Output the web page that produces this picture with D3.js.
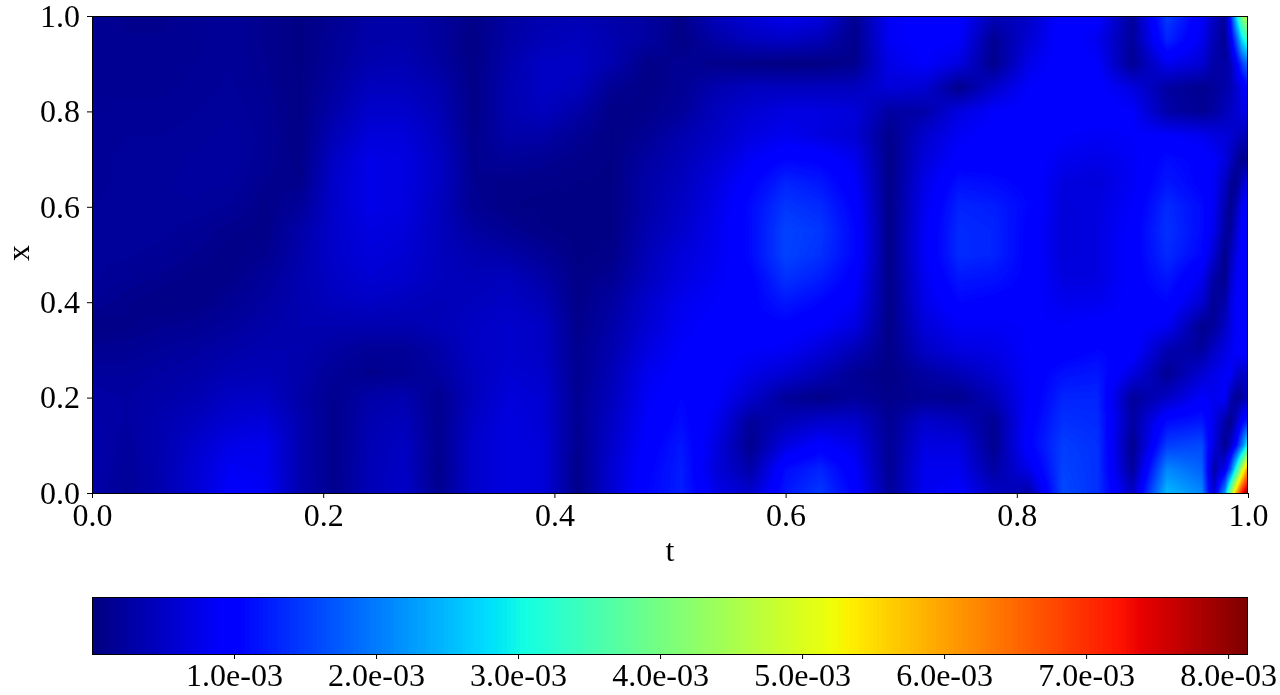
<!DOCTYPE html>
<html>
<head>
<meta charset="utf-8">
<script src="https://cdn.jsdelivr.net/npm/d3@7"></script>
<style>
html,body{margin:0;padding:0;background:#fff;width:1280px;height:695px;overflow:hidden}
#wrap{position:relative;width:1280px;height:695px}
canvas{position:absolute;left:0;top:0}
svg{position:absolute;left:0;top:0}
text{font-family:"Liberation Serif","Times New Roman",serif;fill:#000}
</style>
</head>
<body>
<div id="wrap"><canvas id="heat" width="1280" height="695"></canvas><svg id="chart" width="1280" height="695"></svg></div>
<script>
// Error magnitude, in units of 1e-4
const tNodes = [0,.03,.06,.09,.12,.15,.18,.21,.24,.27,.30,.33,.36,.39,.42,.45,.48,.51,.54,.57,.60,.63,.66,.69,.72,.75,.78,.81,.84,.87,.90,.93,.96,.97,.98,.985,.99,.995,1];
const xNodes = [1,.95,.9,.85,.8,.75,.7,.65,.6,.55,.5,.45,.4,.35,.3,.25,.2,.15,.1,.05,0];
const errorRows = [
[1.5,1.2,1.2,1.5,1.8,1.2,.5,1.5,2.8,3, 2.2,.8,2.5,3.5,3.8,3,2.5,.8,4.5,6.5, 8,7,1.5,8.5,9.5,9.5,4,5,10,9.5, 2,15,9,5,2,12,28,42,47],
[1.5,1.3,1.3,1.5,1.8,1.2,.5,1.8,3,3.2, 2.2,.6,2.8,4,4.5,3.5,2.5,.6,2.8,4.5, 5,4,1,8.5,9.5,9,1.5,6,10,8, 2,13,8,4,1.5,8,17,28,34],
[1.5,1.4,1.4,1.6,1.9,1.3,.5,2,3.5,3.8, 2.5,.6,3.2,5,5,3.5,.8,1.5,1,.6, .4,.5,1.2,7.5,9,7,1,7.5,10,9, 1.5,8,6,3,2.5,4,9,15,19],
[1.5,1.5,1.5,1.7,2,1.4,.6,2.5,4.5,4.5, 3.5,.7,3.5,5,4.5,1.5,.8,1.5,3.5,4.5, 4.5,4.5,4.5,6.5,6,1,5.5,9,10,9.5, 7,2.5,1.2,2,3,4,6,8,10],
[1.6,1.7,1.7,1.9,2.2,1.6,.6,3.2,5.5,5.5, 4,.7,3.5,4.5,3,.7,1,2,4.5,6, 7,7,6.5,2.5,3,7,9,9.5,10,10, 9,3,1.5,2.5,4,5,6,7,8],
[1.7,1.9,1.9,2.1,2.4,1.7,.6,4,6.5,6.5, 4.5,1,3,3,1.5,.6,1.5,3.5,5,7, 8,7,6,1,5.5,8.5,9.5,10,9,8.5, 9,9,8,7,6.5,6,5,4.5,4],
[1.8,2,2.1,2.3,2.5,1.6,.7,5,7.5,7, 5,1.2,2,1.5,1,.6,2.5,4,6,8.5, 10.5,10,8,.7,6.5,9.5,9.5,10,8,7.5, 8.5,11,10,9,7,5,2.5,1,1.5],
[1.8,2,2.2,2.3,2.3,1.2,1,5.5,7.5,7, 5,1.3,.8,.8,.6,.5,3,4.5,7,10, 13,12,9,.7,7.5,11.5,11,10,7,6.5, 8.5,12,10,8.5,5,2,1.2,5,8],
[1.9,2.1,2.2,2.2,1.8,.8,2,5.5,7.5,7, 4.5,1.5,.7,.4,.3,.5,3,5,7.5,11, 14.5,13.5,10,.7,8,13,12.5,10.5,6.5,7, 9,13.5,11,8.5,3.5,1.2,4,8.5,10],
[1.9,2.1,2.1,1.6,1,.8,3,5.5,7,6.5, 4.5,2.5,1.5,.7,.4,.5,3.5,5.5,8,11, 15.5,14.5,10.5,.7,8.5,13.5,13,10,6.5,7, 9.5,14,11,8,2.5,2,6,9.5,10],
[2,2,1.7,1.2,.8,1.2,3.2,5.5,6.5,6, 4.5,3.5,3,1.8,.5,.8,4,6.5,8,11, 15.5,14,10.5,.7,8.5,13.5,13,10,6.5,7, 9.5,13.5,10.5,6,1,4,7.5,9.5,9.5],
[2,1.6,1.2,.7,.9,2,3.5,5,6,5.5, 4.5,4,4.5,3,.7,1.5,4.5,7,8.5,10, 14,12.5,9.5,.7,8,12,11.5,10,7,7, 9.5,12,8,3,1,5.5,8.5,9,9],
[1.6,1,.6,.7,1.5,2.5,3.5,4.5,5,4.5, 4,4.5,5,4,.8,2.5,5.5,8,9,10, 12,10.5,8.5,.7,7.5,10.5,10,9.5,8,8, 9.5,10.5,6,1.5,3,7,9,9.5,9.5],
[.6,.9,1.2,1.5,2.2,3,3.5,3.5,3.5,3.5, 4,5,5.5,5,1,3,6,8.5,9.5,10, 10,9,7,.7,6.5,8.5,8.5,9,9,9.5, 9.5,8.5,1.2,2,5,7,9,10,10],
[1.5,1.5,2,2.4,3,3.5,3.5,2.5,1.8,1.8, 3,5,5.5,5,1.2,3.5,7,9,9.5,9, 8.5,6.5,4,.7,5,7,7.5,9,9.5,10.5, 10,3.5,2.2,5,7,8,9.5,10,10],
[2.2,2.2,2.6,3,3.8,4,3.2,1.8,1.1,1.5, 2.5,4.5,6,5.5,1.3,4,8,9.5,9.5,7.5, 6,4,1.5,.6,2.5,4,6,9,11.5,12, 7,1.5,6,7.5,8.5,9,6,5,6],
[2.8,2.5,3,3.6,5,5,3,1.2,3,3.5, 1.3,4.5,6.5,6,1.5,4.5,8.5,10.5,9,5.5, 2,.8,2,1,1.5,1.2,4,9,13,13, 2,5,9,8,9,4,1.5,2.5,5],
[3,2.5,3.5,4.5,6,6.5,3.5,1,3.5,4.2, 1.2,5,7,6,1.5,5,9,11,8,2, 4,5.5,5.5,1.5,5.5,4.5,1.5,9.5,14,13.5, 2.5,11,12,8,3,1.2,5,10,13],
[3.2,2.2,3.5,5.5,7.5,8,3.5,1,3.8,4.8, 1.2,5.5,7,6.5,1.2,5.5,9.5,12,7,1.2, 7,9.5,7.5,1.5,7,7,1.2,10,15,14, 1.2,15,16,7,1.2,5,11,20,31],
[3.2,2,3.5,6,8.5,8,3.5,1,4,5, 1,5.5,7,6.5,1,6,10,12.5,6.5,3, 11,13,9,1.5,8,8,2.5,7.5,15.5,14, 2,21,18,3,8,17,32,48,62],
[3,1.8,3.5,6,9,8.5,3.5,1.2,4,5.2, 1.3,5.5,7,6.5,.8,6,10.5,12.5,7.5,5.5, 12,14.5,10,2,8,9,5,3,16,14, 5,25,21,5,22,42,60,73,81]
];
const cbarTicks = [10,20,30,40,50,60,70,80];
const axisTicks = [0,.2,.4,.6,.8,1];
const vMax = 81.4;

// matplotlib's jet segments
const jetR = d3.scaleLinear().domain([0,.35,.66,.89,1]).range([0,0,1,1,.5]);
const jetG = d3.scaleLinear().domain([0,.125,.375,.64,.91,1]).range([0,0,1,1,0,0]);
const jetB = d3.scaleLinear().domain([0,.11,.34,.65,1]).range([.5,1,1,0,0]);
const level = d3.scaleLinear().domain([0,vMax]).range([0,1]).clamp(true);
const jet = v => { const q = Math.min(255,Math.floor(level(v)*256))/255;
  return [jetR(q)*255,jetG(q)*255,jetB(q)*255].map(Math.round); };

const L=92,R=1248,T=16,B=493,CT=597,CB=654;
const xT = d3.scaleLinear().domain([0,1]).range([L,R]);
const yX = d3.scaleLinear().domain([0,1]).range([B,T]);
const xV = d3.scaleLinear().domain([0,vMax]).range([L,R]);

// heat field: the read grid displayed with bilinear shading
const tIdx = d3.scaleLinear().domain(tNodes).range(tNodes.map((_,i)=>i)).clamp(true);
const xIdx = d3.scaleLinear().domain(xNodes).range(xNodes.map((_,i)=>i)).clamp(true);
const ctx = document.getElementById('heat').getContext('2d');
const W=R-L,H=B-T, img=ctx.createImageData(W,H);
for(let py=0;py<H;py++){
  const fy=xIdx(yX.invert(T+py+.5)), j=Math.min(Math.floor(fy),xNodes.length-2), v=fy-j;
  for(let px=0;px<W;px++){
    const fx=tIdx(xT.invert(L+px+.5)), i=Math.min(Math.floor(fx),tNodes.length-2), u=fx-i;
    const val=(1-v)*((1-u)*errorRows[j][i]+u*errorRows[j][i+1])+v*((1-u)*errorRows[j+1][i]+u*errorRows[j+1][i+1]);
    const c=jet(val), k=(py*W+px)*4;
    img.data[k]=c[0];img.data[k+1]=c[1];img.data[k+2]=c[2];img.data[k+3]=255;
  }
}
ctx.putImageData(img,L,T);

const svg=d3.select('#chart');
// colour bar
svg.append('g').attr('shape-rendering','crispEdges').selectAll('rect').data(d3.range(256)).join('rect')
  .attr('x',d=>Math.floor(xV(d/256*vMax))).attr('y',CT)
  .attr('width',d=>Math.ceil(xV((d+1)/256*vMax))-Math.floor(xV(d/256*vMax))).attr('height',CB-CT)
  .attr('fill',d=>{const c=jet((d+.5)/256*vMax);return `rgb(${c})`;});

const FS=32;
function style(g){
  g.selectAll('.domain').remove();
  g.selectAll('.tick line').attr('stroke','#000').attr('stroke-width',1);
  g.selectAll('.tick text').attr('font-size',FS);
}
svg.append('g').attr('transform',`translate(0,${B})`)
  .call(d3.axisBottom(xT).tickValues(axisTicks).tickFormat(d3.format('.1f')).tickSize(5).tickPadding(5)).call(style);
svg.append('g').attr('transform',`translate(${L},0)`)
  .call(d3.axisLeft(yX).tickValues(axisTicks).tickFormat(d3.format('.1f')).tickSize(5).tickPadding(7)).call(style);
svg.append('g').attr('transform',`translate(0,${CB})`)
  .call(d3.axisBottom(xV).tickValues(cbarTicks).tickFormat(d=>(d/10).toFixed(1)+'e-03').tickSize(5).tickPadding(4)).call(style);

svg.append('rect').attr('x',L+.5).attr('y',T+.5).attr('width',R-L-1).attr('height',B-T).attr('fill','none').attr('stroke','#000');
svg.append('rect').attr('x',L+.5).attr('y',CT+.5).attr('width',R-L-1).attr('height',CB-CT).attr('fill','none').attr('stroke','#000');

svg.append('text').attr('x',670).attr('y',561).attr('text-anchor','middle').attr('font-size',FS).text('t');
svg.append('text').attr('transform','translate(29,253) rotate(-90)').attr('text-anchor','middle').attr('font-size',FS).text('x');
</script>
</body>
</html>
